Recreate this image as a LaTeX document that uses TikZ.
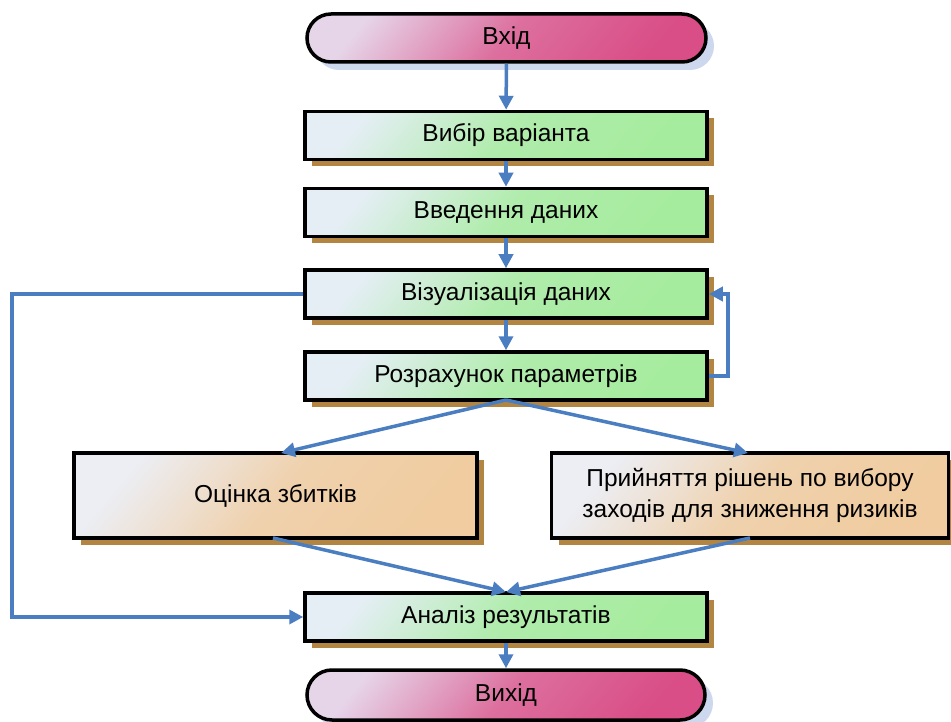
\documentclass[tikz,border=0pt]{standalone}
\usepackage{fontspec}
\setmainfont{Liberation Sans}
\usetikzlibrary{arrows.meta,shapes.misc,shadows}

\definecolor{flowblue}{RGB}{74,126,193}
\definecolor{greenlight}{RGB}{228,238,244}
\definecolor{greendark}{RGB}{166,236,158}
\definecolor{pinklight}{RGB}{230,212,232}
\definecolor{pinkdark}{RGB}{217,78,134}
\definecolor{tanlight}{RGB}{236,238,244}
\definecolor{tandark}{RGB}{240,204,160}
\definecolor{shadowbrown}{RGB}{178,134,66}
\definecolor{shadowblue}{RGB}{205,216,238}

\tikzset{
  base/.style={draw=black, line width=3.5pt, inner sep=2pt, align=center,
    font=\fontsize{24.5}{31}\selectfont},
  stepbox/.style={base, rectangle, minimum width=402pt, minimum height=48pt,
    top color=greenlight, bottom color=greendark,
    middle color=greendark!84!greenlight, shading angle=50,
    drop shadow={shadow xshift=7pt, shadow yshift=-7pt, fill=shadowbrown, opacity=1}},
  bigbox/.style={base, rectangle, minimum height=85pt,
    top color=tanlight, bottom color=tandark,
    middle color=tandark!84!tanlight, shading angle=50,
    drop shadow={shadow xshift=7pt, shadow yshift=-7pt, fill=shadowbrown, opacity=1}},
  terminal/.style={base, rounded rectangle, minimum width=403pt, minimum height=48pt,
    top color=pinklight, bottom color=pinkdark,
    middle color=pinkdark!75!pinklight, shading angle=50,
    drop shadow={shadow xshift=8pt, shadow yshift=-8pt, fill=shadowblue, opacity=1}},
  flow/.style={draw=flowblue, line width=3.5pt,
    -{Triangle[length=14pt,width=14pt]}},
}

\begin{document}
\begin{tikzpicture}[x=1pt, y=-1pt]
  \useasboundingbox (0,0) rectangle (951,722);

  % blocks
  \node[terminal] (start) at (506.5,38) {Вхід};
  \node[stepbox] (choose) at (506,135.5) {Вибір варіанта};
  \node[stepbox] (input) at (506,212.5) {Введення даних};
  \node[stepbox] (visual) at (506,294) {Візуалізація даних};
  \node[stepbox] (calc) at (506,376) {Розрахунок параметрів};
  \node[bigbox, minimum width=403pt] (loss) at (275.5,495.5) {Оцінка збитків};
  \node[bigbox, minimum width=397pt] (decide) at (750,495.5)
    {Прийняття рішень по вибору\\заходів для зниження ризиків};
  \node[stepbox] (analysis) at (506,617) {Аналіз результатів};
  \node[terminal, minimum width=402pt, minimum height=50pt] (stop) at (506,695) {Вихід};

  % auxiliary points
  \coordinate (merge) at (506,592);
  \coordinate (split) at (506,400);

  % connectors
  \draw[flow] (start) -- (choose);
  \draw[flow] (choose) -- (input);
  \draw[flow] (input) -- (visual);
  \draw[flow] (visual) -- (calc);
  \draw[flow] (calc.east) -- ++(19,0) |- (visual.east);
  \draw[flow] (visual.west) -- (12,294) |- (analysis.west);
  \draw[flow] (split) -- (281,453);
  \draw[flow] (split) -- (748,453);
  \draw[flow] (273,538) -- (merge);
  \draw[flow] (750,538) -- (merge);
  \draw[flow] (analysis) -- (stop);
\end{tikzpicture}
\end{document}
